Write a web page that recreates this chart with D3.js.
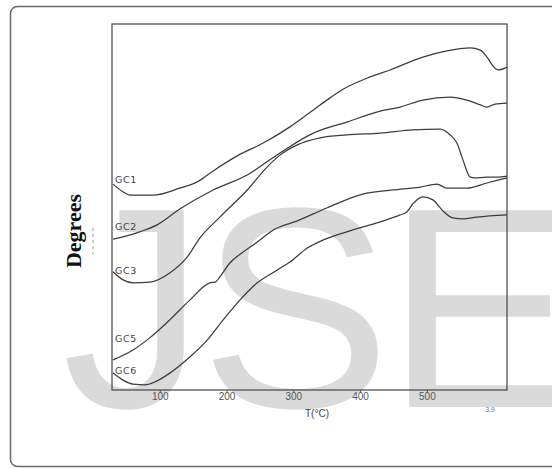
<!DOCTYPE html>
<html>
<head>
<meta charset="utf-8">
<script src="https://cdn.jsdelivr.net/npm/d3@7/dist/d3.min.js"></script>
<style>
  body { margin: 0; background: #fff; }
  .curve { fill: none; stroke: #3c3c3c; stroke-width: 1.25; stroke-linejoin: round; }
  .frame { fill: none; stroke: #444; stroke-width: 1.2; }
  .tick text { font-family: "Liberation Sans", sans-serif; font-size: 10px; fill: #555; }
  .tick line { stroke: #555; }
  .gc-label { font-family: "DejaVu Sans", sans-serif; font-size: 9.5px; fill: #444; letter-spacing: 0.6px; }
</style>
</head>
<body>
<svg id="chart" width="552" height="469"></svg>
<script>
// temperature (degC) and signal (arbitrary units, 0-100) per sample
var gc1T = [30, 45, 55, 90, 130, 156, 180, 216, 255, 295, 330, 355, 375, 415, 445, 494, 530, 565, 580, 590, 599, 607, 617, 620];
var gc1V = [56.1, 54.0, 53.1, 53.1, 55.0, 56.7, 59.7, 63.8, 67.3, 71.7, 76.3, 79.6, 82.0, 85.3, 87.2, 90.7, 92.4, 93.2, 92.6, 90.7, 88.3, 87.2, 87.7, 88.0];

var gc2T = [30, 45, 70, 96, 130, 180, 231, 280, 330, 380, 430, 460, 494, 535, 560, 580, 590, 602, 620];
var gc2V = [41.1, 41.7, 43.1, 45.0, 49.3, 54.5, 58.6, 64.6, 70.0, 73.0, 76.0, 77.1, 79.0, 79.8, 79.0, 77.7, 77.1, 77.9, 78.2];

var gc3T = [30, 45, 60, 85, 115, 141, 160, 190, 231, 261, 280, 306, 340, 380, 430, 479, 520, 535, 545, 554, 565, 572, 590, 605, 620];
var gc3V = [32.2, 30.0, 29.2, 29.4, 31.9, 36.2, 41.4, 47.1, 54.5, 60.8, 64.0, 66.8, 68.7, 69.5, 70.0, 70.9, 71.1, 69.5, 67.3, 62.7, 58.0, 57.8, 58.0, 58.0, 58.3];

var gc5T = [30, 60, 85, 115, 145, 175, 183, 190, 205, 225, 246, 270, 306, 350, 404, 449, 490, 515, 530, 560, 590, 620];
var gc5V = [8.2, 10.9, 14.2, 19.1, 24.5, 29.2, 29.4, 30.8, 34.6, 37.6, 40.3, 43.6, 46.1, 49.6, 53.4, 54.5, 55.3, 56.1, 55.0, 55.0, 56.4, 57.8];

var gc6T = [30, 45, 60, 78, 93, 115, 145, 171, 195, 220, 246, 276, 295, 321, 345, 380, 430, 460, 470, 479, 494, 509, 524, 539, 554, 575, 620];
var gc6V = [4.6, 2.7, 1.6, 1.4, 2.2, 4.6, 9.0, 13.6, 19.1, 24.5, 29.2, 32.7, 34.9, 38.7, 40.9, 43.1, 45.8, 47.7, 48.5, 50.7, 52.6, 51.8, 48.8, 46.9, 46.6, 47.1, 47.7];

var seriesNames = ["GC1", "GC2", "GC3", "GC5", "GC6"];
var seriesT = [gc1T, gc2T, gc3T, gc5T, gc6T];
var seriesV = [gc1V, gc2V, gc3V, gc5V, gc6V];
// label lift above the first point, in px
var labelLift = [1, 9, -2, 18, -1];

var xTicks = [100, 200, 300, 400, 500];

var svg = d3.select("#chart");

// outer page frame
svg.append("rect")
  .attr("x", 10.5).attr("y", 6.5)
  .attr("width", 560).attr("height", 460)
  .attr("rx", 7)
  .attr("fill", "none").attr("stroke", "#6a6a6a").attr("stroke-width", 1.5);

// watermark, sits behind the plot
svg.append("text")
  .attr("x", 62).attr("y", 407)
  .attr("font-family", "Liberation Sans, Arial, sans-serif")
  .attr("font-size", 286)
  .attr("letter-spacing", -5)
  .attr("fill", "#dadada")
  .text("JSE");

var x = d3.scaleLinear().domain([30, 620]).range([113, 507]);
var y = d3.scaleLinear().domain([0, 100]).range([390, 23]);

svg.append("rect")
  .attr("class", "frame")
  .attr("x", x.range()[0] - 1).attr("y", 24)
  .attr("width", x.range()[1] - x.range()[0] + 1)
  .attr("height", y.range()[0] - 24);

var axis = svg.append("g")
  .attr("transform", "translate(0," + y.range()[0] + ")")
  .call(d3.axisBottom(x).tickValues(xTicks).tickSize(3).tickPadding(0));
axis.select(".domain").remove();

var line = d3.line()
  .x(function(d) { return x(d[0]); })
  .y(function(d) { return y(d[1]); })
  .curve(d3.curveMonotoneX);

seriesNames.forEach(function(name, i) {
  var pts = d3.zip(seriesT[i], seriesV[i]);
  svg.append("path")
    .attr("class", "curve")
    .attr("d", line(pts));
  svg.append("text")
    .attr("class", "gc-label")
    .attr("x", x(pts[0][0]) + 2)
    .attr("y", y(pts[0][1]) - labelLift[i])
    .text(name);
});

// axis titles
svg.append("text")
  .attr("transform", "translate(81,231) rotate(-90)")
  .attr("text-anchor", "middle")
  .attr("font-family", "Liberation Serif, Times New Roman, serif")
  .attr("font-size", 22)
  .attr("font-weight", "bold")
  .attr("fill", "#111")
  .text("Degrees");

svg.append("line")
  .attr("x1", 93).attr("x2", 93)
  .attr("y1", 228).attr("y2", 254)
  .attr("stroke", "#999").attr("stroke-dasharray", "3,3");

svg.append("text")
  .attr("x", 317).attr("y", 417)
  .attr("text-anchor", "middle")
  .attr("font-family", "Liberation Sans, sans-serif")
  .attr("font-size", 10)
  .attr("fill", "#444")
  .text("T(°C)");

svg.append("text")
  .attr("x", 490).attr("y", 412)
  .attr("text-anchor", "middle")
  .attr("font-family", "Liberation Sans, sans-serif")
  .attr("font-size", 7)
  .attr("fill", "#777")
  .text("3.9");
</script>
</body>
</html>
